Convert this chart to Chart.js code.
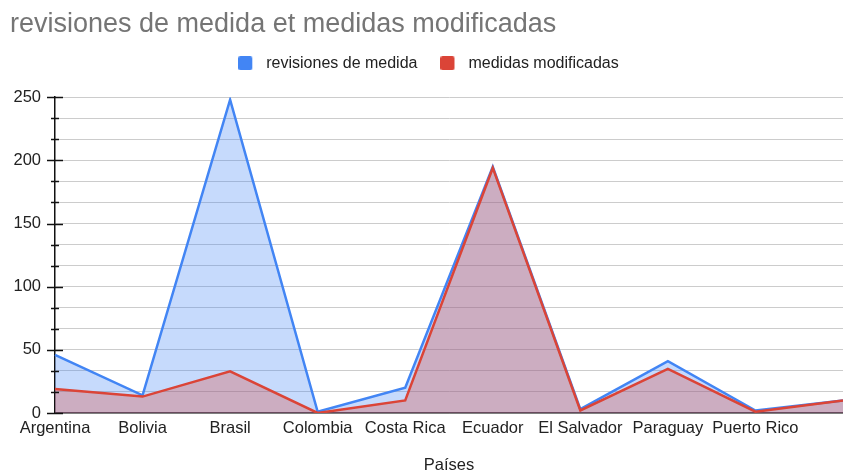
<!DOCTYPE html>
<html>
<head>
<meta charset="utf-8">
<script src="https://cdn.jsdelivr.net/npm/chart.js@4/dist/chart.umd.min.js"></script>
<style>
  html, body { margin: 0; padding: 0; background: #fff; }
  canvas { display: block; }
</style>
</head>
<body>
<canvas id="chart" width="843" height="473"></canvas>
<script>
// Countries along the x axis (the last one has no printed label)
const countries = ['Argentina', 'Bolivia', 'Brasil', 'Colombia', 'Costa Rica', 'Ecuador', 'El Salvador', 'Paraguay', 'Puerto Rico', ''];
// Series values
const revisiones = [46, 14, 248, 1, 20, 195, 3, 41, 2, 10];
const modificadas = [19, 13, 33, 0, 10, 194, 2, 35, 1, 10];
// Labelled y ticks, with minor gridlines in between
const yLabelTicks = [0, 50, 100, 150, 200, 250];
const minorPerMajor = 3;

const FONT = "'Liberation Sans', Arial, sans-serif";
const BLUE = '#4285F4';
const RED = '#DB4437';

function buildYTicks() {
  const ticks = [];
  for (let i = 0; i < yLabelTicks.length; i++) {
    ticks.push({ value: yLabelTicks[i], major: true });
    if (i < yLabelTicks.length - 1) {
      const step = (yLabelTicks[i + 1] - yLabelTicks[i]) / minorPerMajor;
      for (let k = 1; k < minorPerMajor; k++) {
        ticks.push({ value: yLabelTicks[i] + step * k, major: false });
      }
    }
  }
  return ticks;
}

// Legend swatch: a rounded square on the left of a wider transparent canvas,
// so the text sits a little further from the square.
function swatch(color) {
  const c = document.createElement('canvas');
  c.width = 20; c.height = 14;
  const g = c.getContext('2d');
  g.fillStyle = color;
  g.beginPath();
  if (g.roundRect) g.roundRect(0, 0, 14, 14, 2); else g.rect(0, 0, 14, 14);
  g.fill();
  return c;
}

// Tick marks on the vertical axis: long ones at labelled values, short ones between
const axisTickMarks = {
  id: 'axisTickMarks',
  afterDraw(chart) {
    const y = chart.scales.y;
    const x0 = chart.chartArea.left;
    const ctx = chart.ctx;
    ctx.save();
    ctx.strokeStyle = '#111';
    ctx.lineWidth = 1.5;
    y.ticks.forEach(t => {
      const py = Math.round(y.getPixelForValue(t.value)) + 0.5;
      const left = t.major ? 8 : 4;
      const right = t.major ? 8 : 4;
      ctx.beginPath();
      ctx.moveTo(x0 - left, py);
      ctx.lineTo(x0 + right, py);
      ctx.stroke();
    });
    ctx.restore();
  }
};

// Extra room between the legend and the plot; title nudged to the left edge
const headerTweaks = {
  id: 'headerTweaks',
  beforeLayout(chart) {
    const lg = chart.legend;
    if (lg && !lg._gapPatched) {
      const fit = lg.fit;
      lg.fit = function () { fit.call(this); this.height += 16; };
      lg._gapPatched = true;
    }
  },
  afterLayout(chart) {
    const tb = chart.titleBlock;
    if (tb) { tb.left -= 4; tb.right -= 4; }
  }
};

new Chart(document.getElementById('chart'), {
  type: 'line',
  data: {
    labels: countries,
    datasets: [
      {
        label: 'revisiones de medida',
        data: revisiones,
        borderColor: BLUE,
        backgroundColor: 'rgba(66,133,244,0.3)',
        borderWidth: 2.5,
        fill: 'origin',
        pointRadius: 0,
        pointStyle: swatch(BLUE),
        tension: 0,
        order: 1
      },
      {
        label: 'medidas modificadas',
        data: modificadas,
        borderColor: RED,
        backgroundColor: 'rgba(219,68,55,0.3)',
        borderWidth: 2.5,
        fill: 'origin',
        pointRadius: 0,
        pointStyle: swatch(RED),
        tension: 0,
        order: 0
      }
    ]
  },
  options: {
    responsive: false,
    animation: false,
    layout: { autoPadding: false, padding: { left: 14, right: 0, top: 0, bottom: 0 } },
    plugins: {
      tooltip: { enabled: false },
      title: {
        display: true,
        text: 'revisiones de medida et medidas modificadas',
        align: 'start',
        color: '#757575',
        font: { family: FONT, size: 27, weight: 'normal', lineHeight: 0.6 },
        padding: { top: 16, bottom: 0 }
      },
      legend: {
        position: 'top',
        labels: {
          color: '#222',
          font: { family: FONT, size: 16 },
          boxWidth: 14,
          boxHeight: 14,
          usePointStyle: true,
          pointStyleWidth: 20,
          padding: 23,
          generateLabels(chart) {
            const items = Chart.defaults.plugins.legend.labels.generateLabels(chart);
            items.forEach(it => { it.lineWidth = 0; });
            return items.sort((a, b) => a.datasetIndex - b.datasetIndex);
          }
        }
      }
    },
    scales: {
      x: {
        afterFit(scale) { scale.height = 60; scale.paddingRight = 0; },
        grid: { display: false, drawTicks: false },
        border: { display: true, color: '#333', width: 1.5 },
        ticks: {
          color: '#222',
          font: { family: FONT, size: 16.5 },
          autoSkip: false,
          maxRotation: 0,
          padding: 6
        },
        title: {
          display: true,
          text: 'Países',
          color: '#222',
          font: { family: FONT, size: 16.5, lineHeight: 0.9 },
          padding: { top: 10, bottom: 0 }
        }
      },
      y: {
        min: 0,
        max: 250,
        afterBuildTicks(scale) { scale.ticks = buildYTicks(); },
        afterFit(scale) { scale.width = 41; },
        grid: { color: '#cccccc', lineWidth: 1, drawTicks: false },
        border: { display: true, color: '#111', width: 1.5 },
        ticks: {
          color: '#222',
          font: { family: FONT, size: 16.5 },
          autoSkip: false,
          padding: 14,
          callback(value) {
            return yLabelTicks.some(v => Math.abs(v - value) < 1e-6) ? String(value) : '';
          }
        }
      }
    }
  },
  plugins: [axisTickMarks, headerTweaks]
});
</script>
</body>
</html>
